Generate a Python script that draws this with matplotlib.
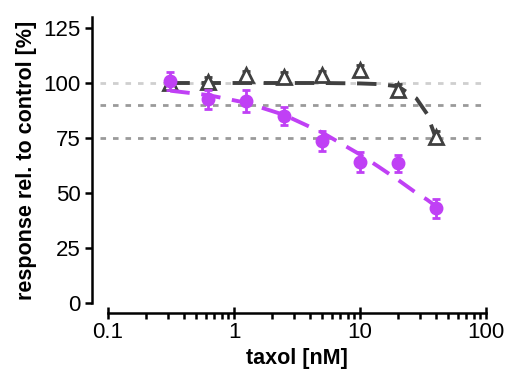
import matplotlib
matplotlib.use("Agg")
import matplotlib.pyplot as plt
from matplotlib.ticker import LogLocator, FixedLocator, NullFormatter

plt.rcParams['font.family'] = ['Liberation Sans', 'DejaVu Sans']

conc = [0.3125, 0.625, 1.25, 2.5, 5, 10, 20, 40]
purple_vals = [101, 92.5, 92, 85, 73.5, 64, 63.5, 43]
purple_err = [4, 4.5, 5, 4, 4.5, 4.5, 4, 4.5]
black_vals = [100, 100.5, 103.5, 102.5, 103.5, 106, 97, 75.5]
black_err = [1.5, 2, 2, 2.5, 2, 2, 2.5, 2.5]

# fitted curves
fit_x = [0.3125, 0.625, 1.25, 2.5, 5, 10, 14, 20, 28, 34, 40]
purple_fit = [96.5, 94.5, 91, 85.5, 77.5, 67.5, 62, 56, 50, 47, 44]
black_fit = [100, 100, 100, 100, 100, 99.8, 99.5, 98.5, 93, 86, 75]

ref_lines = [100, 90, 75]
ref_colors = ['#cfcfcf', '#9a9a9a', '#9a9a9a']

purple = '#C040F5'
dark = '#404040'

fig = plt.figure(figsize=(5.07, 3.76), dpi=100)
ax = fig.add_axes([108/507, 73/376, 378/507, 286/376])

for y, c in zip(ref_lines, ref_colors):
    ax.axhline(y, xmin=-0.022, xmax=1.0, color=c, lw=2, ls=(0, (2, 2.5)),
               clip_on=False, zorder=1)

ax.plot(fit_x, black_fit, color=dark, lw=2.8, ls=(0, (5, 3)), zorder=2)
ax.errorbar(conc, black_vals, yerr=black_err, fmt='^', ms=10, mfc='white',
            mec=dark, mew=2, ecolor=dark, elinewidth=2, capsize=3,
            capthick=2, zorder=3)

ax.plot(fit_x, purple_fit, color=purple, lw=2.8, ls=(0, (5, 3)), zorder=4)
ax.errorbar(conc, purple_vals, yerr=purple_err, fmt='o', ms=9, mfc=purple,
            mec=purple, ecolor=purple, elinewidth=2, capsize=3,
            capthick=2, zorder=5)

ax.set_xscale('log')
ax.set_xlim(0.1, 100)
ax.set_ylim(0, 130)
ax.set_yticks([0, 25, 50, 75, 100, 125])
ax.xaxis.set_major_locator(FixedLocator([0.1, 1, 10, 100]))
ax.set_xticklabels(['0.1', '1', '10', '100'])
ax.xaxis.set_minor_locator(LogLocator(base=10, subs=range(2, 10)))
ax.xaxis.set_minor_formatter(NullFormatter())

for s in ['top', 'right']:
    ax.spines[s].set_visible(False)
ax.spines['left'].set_position(('outward', 11.5))
ax.spines['bottom'].set_position(('outward', 7.5))
ax.spines['left'].set_linewidth(1.8)
ax.spines['bottom'].set_linewidth(1.8)
ax.spines['left'].set_bounds(0, 130)

ax.tick_params(axis='y', which='major', direction='out', length=5, width=1.8,
               labelsize=16, pad=3)
ax.tick_params(axis='x', which='major', direction='inout', length=8, width=1.8,
               labelsize=16, pad=2)
ax.tick_params(axis='x', which='minor', direction='out', length=4, width=1.8)

ax.set_xlabel('taxol [nM]', fontsize=15.5, fontweight='bold', labelpad=4)
ax.set_ylabel('response rel. to control [%]', fontsize=15.5, fontweight='bold',
              labelpad=5)

fig.savefig('out.png', dpi=100)
